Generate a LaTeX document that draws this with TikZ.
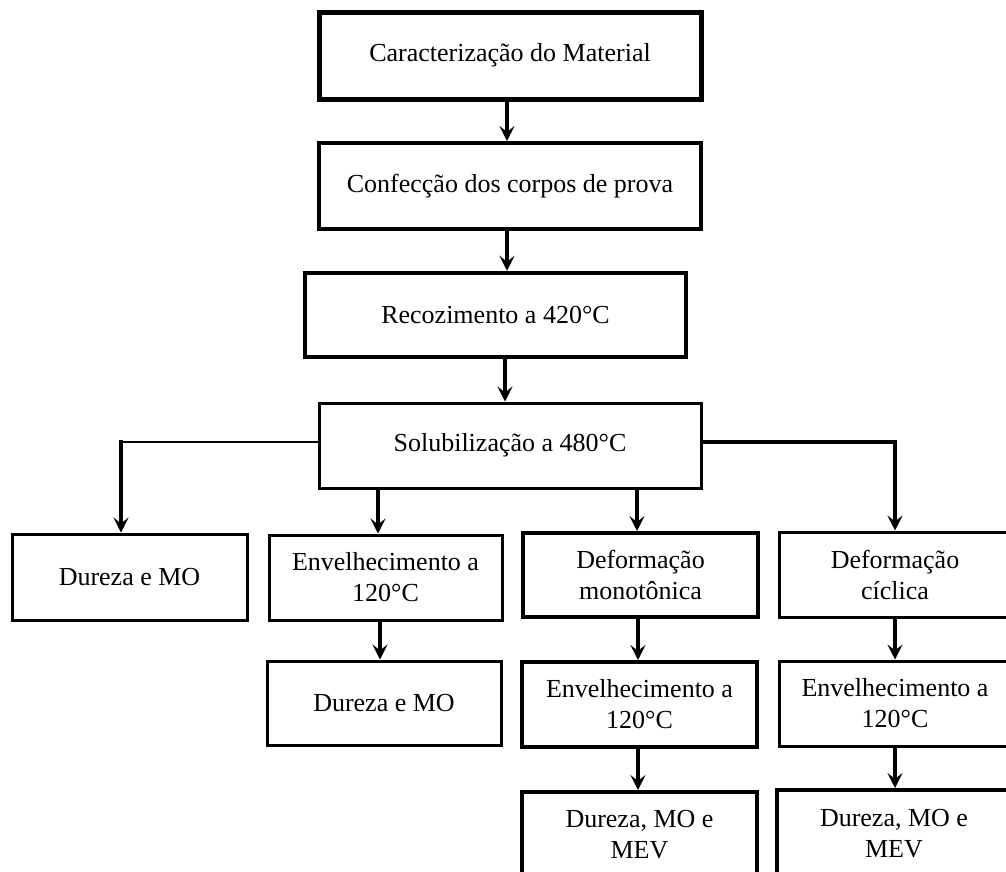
\documentclass[tikz,border=0pt]{standalone}
\usepackage{fontspec}
\setmainfont{Liberation Serif}
\usetikzlibrary{arrows.meta}
\begin{document}
\begin{tikzpicture}[x=1pt,y=-1pt,
  box/.style={draw, line width=3pt, inner sep=0pt, align=center,
    font=\fontsize{26}{31}\selectfont},
  arr/.style={line width=4pt, line cap=rect, -{Stealth[length=15pt,width=15pt,inset=6pt]}},
  thinline/.style={line width=2.5pt},
  thickline/.style={line width=4.5pt}
]
\useasboundingbox (0,0) rectangle (1006,871);
\clip (0,0) rectangle (1006,871);
\fill[white] (0,0) rectangle (1006,871);

% main column
\node[box, line width=5pt, minimum width=382, minimum height=87] (n1) at (510,55.5) {Caracterização do Material};
\node[box, line width=4pt, minimum width=382, minimum height=86] (n2) at (510,186) {Confecção dos corpos de prova};
\node[box, line width=4.5pt, minimum width=381, minimum height=84] (n3) at (495.5,315) {Recozimento a 420°C};
\node[box, minimum width=382, minimum height=85] (n4) at (510,445.5) {Solubilização a 480°C};

% first row
\node[box, minimum width=235, minimum height=86] (d1) at (129.5,577) {Dureza e MO};
\node[box, minimum width=233, minimum height=85] (e1) at (385.5,577.5) {Envelhecimento a\\120°C};
\node[box, line width=4pt, minimum width=235, minimum height=84] (m1) at (640.5,575) {Deformação\\monotônica};
\node[box, minimum width=232, minimum height=85] (c1) at (895,574.5) {Deformação\\cíclica};

% second row
\node[box, minimum width=234, minimum height=84] (d2) at (384,703) {Dureza e MO};
\node[box, line width=4pt, minimum width=235, minimum height=85] (e3) at (639.5,704.5) {Envelhecimento a\\120°C};
\node[box, minimum width=232, minimum height=85] (e4) at (895,703.5) {Envelhecimento a\\120°C};

% third row
\node[box, line width=4pt, minimum width=235, minimum height=86] (f3) at (639.5,835) {Dureza, MO e\\MEV};
\node[box, line width=4pt, minimum width=234, minimum height=88] (f4) at (894,834) {Dureza, MO e\\MEV};

% connectors main column
\draw[arr] ([xshift=-3pt]n1.south) -- ([xshift=-3pt]n2.north);
\draw[arr] ([xshift=-3pt]n2.south) -- ([xshift=-3pt]n2.south |- n3.north);
\draw[arr] ([xshift=-5pt]n4.north |- n3.south) -- ([xshift=-5pt]n4.north);

% branches
\coordinate (bl) at (121,442);
\coordinate (br) at (895,442);
\draw[thinline] (n4.west |- bl) -- (bl);
\draw[arr] (bl) -- (bl |- d1.north);
\draw[thickline, -{Stealth[length=15pt,width=15pt,inset=6pt]}] (n4.east |- br) -| (c1.north);
\draw[arr] ([xshift=-7.5pt]e1.north |- n4.south) -- ([xshift=-7.5pt]e1.north);
\draw[arr] ([xshift=-3.5pt]m1.north |- n4.south) -- ([xshift=-3.5pt]m1.north);

% lower connectors
\draw[arr] ([xshift=-5.5pt]e1.south) -- ([xshift=-5.5pt]e1.south |- d2.north);
\draw[arr] ([xshift=-2.5pt]m1.south) -- ([xshift=-2.5pt]m1.south |- e3.north);
\draw[arr] (c1.south) -- (e4.north);
\draw[arr] ([xshift=-1.5pt]e3.south) -- ([xshift=-1.5pt]e3.south |- f3.north);
\draw[arr] (e4.south) -- (e4.south |- f4.north);
\end{tikzpicture}
\end{document}
